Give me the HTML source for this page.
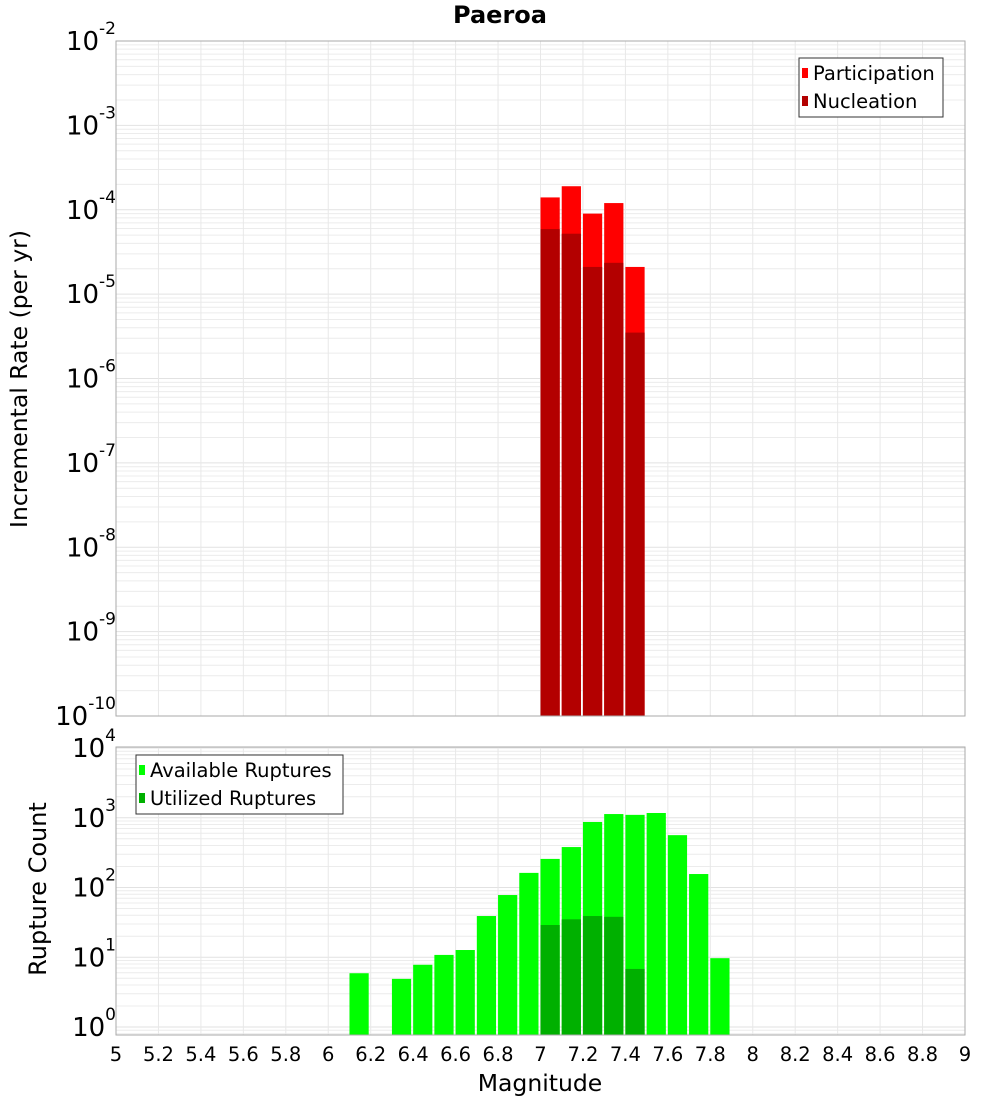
<!DOCTYPE html>
<html><head><meta charset="utf-8"><style>
html,body{margin:0;padding:0;background:#fff;}
svg{display:block;font-family:"DejaVu Sans","Liberation Sans",sans-serif;}
</style></head><body>
<svg id="chart" width="1000" height="1100" viewBox="0 0 1000 1100" xmlns="http://www.w3.org/2000/svg">
<text x="500" y="23" text-anchor="middle" font-size="24" font-weight="bold">Paeroa</text>
<g id="top"></g><g id="bot"></g>
<text x="540" y="1091" text-anchor="middle" font-size="23.5">Magnitude</text>
<text transform="translate(27,379) rotate(-90)" text-anchor="middle" font-size="23.5">Incremental Rate (per yr)</text>
<text transform="translate(46,889) rotate(-90)" text-anchor="middle" font-size="24">Rupture Count</text>
</svg>
<script>
const topMags = [7.0, 7.1, 7.2, 7.3, 7.4];
const participation = [1.4e-4, 1.9e-4, 9e-5, 1.2e-4, 2.1e-5];
const nucleation = [5.9e-5, 5.2e-5, 2.1e-5, 2.35e-5, 3.5e-6];
const botMags = [6.1, 6.3, 6.4, 6.5, 6.6, 6.7, 6.8, 6.9, 7.0, 7.1, 7.2, 7.3, 7.4, 7.5, 7.6, 7.7, 7.8];
const available = [5.9, 4.9, 7.8, 10.8, 12.7, 39, 78, 162, 257, 380, 870, 1130, 1100, 1170, 563, 156, 9.7];
const utilMags = [7.0, 7.1, 7.2, 7.3, 7.4];
const utilized = [29, 35, 39, 38, 6.8];
const xTicks = [5,5.2,5.4,5.6,5.8,6,6.2,6.4,6.6,6.8,7,7.2,7.4,7.6,7.8,8,8.2,8.4,8.6,8.8,9];
const topExps = [-2,-3,-4,-5,-6,-7,-8,-9,-10];
const botExps = [4,3,2,1,0];

const NS="http://www.w3.org/2000/svg";
const L=116, R=965;
const xs = m => L + (m-5)/4*(R-L);
function mk(p,tag,attrs,txt){const e=document.createElementNS(NS,tag);for(const k in attrs)e.setAttribute(k,attrs[k]);if(txt!==undefined)e.textContent=txt;p.appendChild(e);return e;}

function panel(g, top, bottom, yOf, expMin, expMax){
  const grid=mk(g,'g',{});
  
  
  for(let e=expMin-1;e<=expMax;e++){
    for(let k=1;k<10;k++){
      const y=yOf(k*Math.pow(10,e));
      if(y<top-0.5||y>bottom+0.5) continue;
      mk(grid,'line',{x1:L,x2:R,y1:y,y2:y,stroke:k==1?'#e2e2e2':'#ececec','stroke-width':1});
    }
  }
  xTicks.forEach(t=>{const x=xs(t);mk(grid,'line',{x1:x,x2:x,y1:top,y2:bottom,stroke:'#e8e8e8','stroke-width':1});});
}
function frame(g,top,bottom){
  const f=mk(g,'rect',{x:L,y:top,width:R-L,height:bottom-top,fill:'none',stroke:'#aaa','stroke-width':1});
  
  
}
function yLabel(g,y,exp){
  const t=mk(g,'text',{x:116,y:y+9,'text-anchor':'end','font-size':26});
  
  
  mk(t,'tspan',{},'10');
  mk(t,'tspan',{dy:-16,'font-size':17},String(exp));
}
function bar(g,m,v,yOf,bottom,color,name){
  const x=xs(m), w=xs(m+0.1)-x-2, y=yOf(v);
  const r=mk(g,'rect',{x:x,y:y,width:w,height:bottom-y,fill:color});
  
  
}
function legend(g,x,y,w,items){
  const lg=mk(g,'g',{});
  
  
  mk(lg,'rect',{x:x,y:y,width:w,height:59,fill:'#fff',stroke:'#333','stroke-width':1});
  items.forEach((it,i)=>{
    const e=mk(lg,'g',{});
    
    
    mk(e,'rect',{x:x+3,y:y+10+i*28,width:6,height:10,fill:it[1]});
    mk(e,'text',{x:x+14,y:y+22+i*28,'font-size':19.5},it[0]);
  });
}

const tT=41, tB=716, tDec=(tB-tT)/8;
const yT = v => tT + (-2 - Math.log10(v))*tDec;
const gt=document.getElementById('top');


panel(gt,tT,tB,yT,-10,-2);
topMags.forEach((m,i)=>bar(gt,m,participation[i],yT,tB,'#ff0000','participation-bar'));
topMags.forEach((m,i)=>bar(gt,m,nucleation[i],yT,tB,'#b30000','nucleation-bar'));
frame(gt,tT,tB);
topExps.forEach(e=>yLabel(gt,yT(Math.pow(10,e)),e));
legend(gt,799,58,144,[['Participation','#ff0000'],['Nucleation','#b30000']]);

const bT=747, bB=1035, b0=1027, bDec=(b0-748)/4;
const yB = v => b0 - Math.log10(v)*bDec;
const gb=document.getElementById('bot');


panel(gb,bT,bB,yB,0,4);
botMags.forEach((m,i)=>bar(gb,m,available[i],yB,bB,'#00ff00','available-bar'));
utilMags.forEach((m,i)=>bar(gb,m,utilized[i],yB,bB,'#00b000','utilized-bar'));
frame(gb,bT,bB);
botExps.forEach(e=>yLabel(gb,yB(Math.pow(10,e)),e));
legend(gb,136,755,207,[['Available Ruptures','#00ff00'],['Utilized Ruptures','#00b000']]);
xTicks.forEach(t=>{
  const tx=mk(gb,'text',{x:xs(t),y:1061,'text-anchor':'middle','font-size':19.5},String(t));
  
  
});
</script>
</body></html>
